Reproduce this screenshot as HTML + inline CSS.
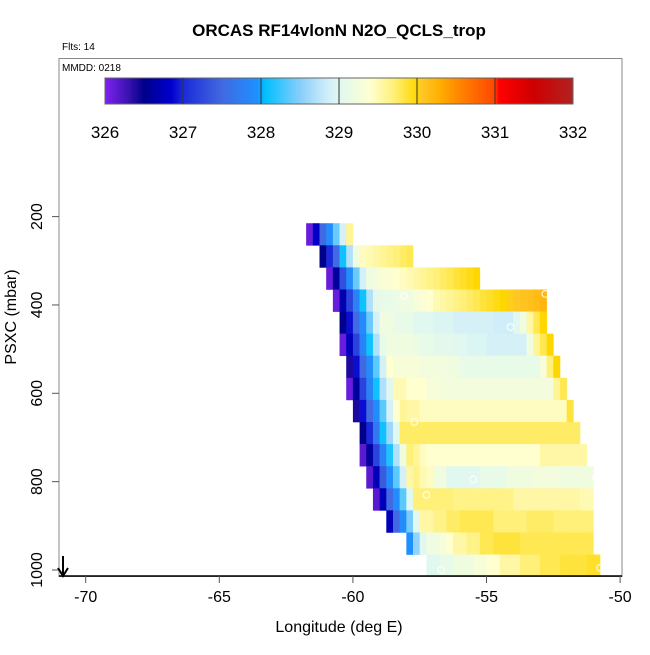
<!DOCTYPE html>
<html><head><meta charset="utf-8"><style>
body{margin:0;background:#fff;}
svg text{font-family:"Liberation Sans",Arial,sans-serif;}
</style></head><body>
<svg id="chart" width="650" height="650" viewBox="0 0 650 650" xmlns="http://www.w3.org/2000/svg">
<defs><linearGradient id="cbg" x1="0" x2="1" y1="0" y2="0"></linearGradient></defs>
<rect x="0" y="0" width="650" height="650" fill="#fff"/>
<text x="339" y="36" font-size="17" font-weight="bold" text-anchor="middle">ORCAS RF14vlonN N2O_QCLS_trop</text>
<text x="62" y="50" font-size="10">Flts: 14</text>
<g id="cells"></g>
<g id="markers"></g>
<rect x="59" y="58.5" width="563" height="518" fill="none" stroke="#888" stroke-width="1"/>
<text x="62" y="71" font-size="10">MMDD: 0218</text>
<g id="colorbar"></g>
<line x1="59" y1="576" x2="622" y2="576" stroke="#000" stroke-width="1.5"/>
<g id="xaxis"></g>
<g id="yaxis"></g>
<text x="339" y="632" font-size="16" text-anchor="middle">Longitude (deg E)</text>
<text transform="translate(16,317) rotate(-90)" font-size="16" text-anchor="middle">PSXC (mbar)</text>
<g>
<line x1="63" y1="556" x2="63" y2="575" stroke="#000" stroke-width="2"/>
<path d="M58,568 L63,576 L68,568" fill="none" stroke="#000" stroke-width="2"/>
</g>
</svg>
<script>
const xTicks=[-70,-65,-60,-55,-50];
const yTicks=[200,400,600,800,1000];
const cbTicks=[326,327,328,329,330,331,332];
const rowPressure=[215,265,315,365,415,465,515,565,615,665,715,765,815,865,915,965];
const rowStartLon=[-61.75,-61.25,-61.0,-60.75,-60.5,-60.5,-60.25,-60.25,-60.0,-59.75,-59.75,-59.5,-59.25,-58.75,-58.0,-57.25];
const r1=[326.1,326.8,327.5,327.9,328.4,328.9,329.6];
const r2=[326.5,327.0,327.5,328.1,328.7,329.2,329.45,329.5,329.55,329.6,329.65,329.7,329.75,329.8];
const r3=[326.1,326.6,327.3,327.9,328.4,328.9,329.2,329.25,329.35,329.35,329.4,329.45,329.5,329.55,329.6,329.65,329.7,329.75,329.8,329.85,329.9,329.95,330.0];
const r4=[326.1,326.7,327.2,327.8,328.1,328.7,329.05,329.1,329.1,329.15,329.2,329.2,329.3,329.35,329.4,329.5,329.55,329.6,329.65,329.7,329.75,329.8,329.85,329.9,329.95,330.0,330.03,330.06,330.1,330.13,330.17,330.22];
const r5=[326.5,326.9,327.5,327.9,328.4,328.9,329.2,329.2,329.1,329.1,329.1,329.0,329.0,329.0,328.95,328.95,328.95,328.9,328.9,328.9,328.9,328.9,328.9,328.85,328.85,328.85,329.0,329.2,329.55,329.8,330.0];
const r6=[326.1,326.75,327.2,327.8,328.1,328.7,329.1,329.2,329.2,329.2,329.2,329.15,329.1,329.1,329.05,329.05,329.05,329.0,329.0,328.95,328.95,328.95,328.9,328.9,328.9,328.9,328.9,328.9,329.2,329.6,329.8,330.0];
const r7=[326.4,326.9,327.5,327.9,328.35,328.9,329.4,329.3,329.3,329.3,329.3,329.25,329.25,329.25,329.25,329.2,329.2,329.1,329.1,329.1,329.1,329.1,329.1,329.1,329.1,329.1,329.1,329.1,329.1,329.3,329.7,330.0];
const r8=[326.1,326.6,327.2,327.8,328.1,328.7,329.0,329.5,329.5,329.4,329.4,329.4,329.3,329.3,329.25,329.25,329.25,329.25,329.25,329.25,329.25,329.25,329.25,329.25,329.25,329.25,329.25,329.25,329.25,329.25,329.25,329.6,329.8];
const r9=[326.4,326.9,327.5,327.9,328.35,328.9,329.4,329.6,329.55,329.55,329.45,329.45,329.45,329.45,329.45,329.45,329.45,329.45,329.45,329.45,329.45,329.45,329.45,329.45,329.45,329.45,329.45,329.45,329.45,329.45,329.45,329.45,329.85];
const r10=[326.5,327.0,327.7,328.1,328.6,329.0,329.75,329.75,329.75,329.75,329.75,329.75,329.75,329.75,329.75,329.75,329.75,329.75,329.75,329.75,329.75,329.75,329.75,329.75,329.75,329.75,329.75,329.75,329.75,329.75,329.75,329.75,329.75];
const r11=[326.15,326.6,327.2,327.8,328.15,328.7,329.2,329.7,329.6,329.45,329.4,329.4,329.4,329.4,329.4,329.4,329.4,329.4,329.4,329.4,329.4,329.4,329.4,329.4,329.4,329.4,329.4,329.55,329.55,329.55,329.55,329.55,329.55,329.55];
const r12=[326.15,326.75,327.4,327.9,328.35,328.9,329.55,329.65,329.5,329.45,329.2,329.2,329.0,329.0,329.0,329.0,329.0,329.1,329.1,329.1,329.1,329.2,329.2,329.2,329.2,329.25,329.25,329.25,329.25,329.2,329.2,329.2,329.2,329.2];
const r13=[326.15,326.75,327.5,327.9,328.35,329.0,329.7,329.7,329.7,329.7,329.7,329.7,329.65,329.65,329.65,329.65,329.65,329.65,329.65,329.65,329.65,329.55,329.55,329.55,329.55,329.55,329.55,329.55,329.55,329.55,329.55,329.5,329.5];
const r14=[326.75,327.5,327.9,328.45,329.0,329.55,329.55,329.65,329.65,329.75,329.75,329.8,329.8,329.8,329.8,329.8,329.7,329.7,329.7,329.7,329.7,329.75,329.75,329.75,329.75,329.7,329.7,329.7,329.7,329.7,329.7];
const r15=[327.95,328.55,329.0,329.2,329.2,329.3,329.4,329.55,329.55,329.65,329.65,329.8,329.8,329.85,329.85,329.85,329.85,329.8,329.8,329.8,329.8,329.8,329.8,329.8,329.8,329.8,329.8,329.8];
const r16=[329.0,329.0,329.1,329.1,329.2,329.2,329.2,329.3,329.3,329.4,329.4,329.55,329.55,329.55,329.7,329.7,329.7,329.8,329.8,329.8,329.85,329.85,329.85,329.85,329.9,329.9];
const rowValues=[r1,r2,r3,r4,r5,r6,r7,r8,r9,r10,r11,r12,r13,r14,r15,r16];
const markerLon=[-59.35,-58.1,-52.8,-54.1,-57.7,-51.2,-55.5,-50.9,-57.25,-56.7,-50.75];
const markerP=[240,380,375,450,665,665,795,790,830,1000,995];
const cellLon=0.25, binP=50;

const NS="http://www.w3.org/2000/svg";
function xs(l){return 85.7+(l+70)*26.72;}
function ys(p){return 570-(1000-p)*0.44175;}
const stops=[[326.0,"#7d22f0"],[326.3,"#3a12b0"],[326.5,"#00008b"],[326.85,"#0000cd"],[327.0,"#1a2ad8"],[327.5,"#4169e1"],[327.95,"#1e90ff"],[328.05,"#00bfff"],[328.5,"#87cefa"],[328.85,"#d0eefa"],[329.0,"#e0f8f0"],[329.4,"#ffffd0"],[329.7,"#fff07a"],[330.0,"#ffd700"],[330.05,"#ffc828"],[330.3,"#ffae00"],[330.5,"#ff8c00"],[331.0,"#ff4500"],[331.05,"#ff0000"],[331.5,"#cd0000"],[332.0,"#b22222"]];
function hx(c){return [1,3,5].map(i=>parseInt(c.substr(i,2),16));}
function col(v){
  if(v<=stops[0][0])return stops[0][1];
  for(let i=1;i<stops.length;i++){if(v<=stops[i][0]){const a=stops[i-1],b=stops[i];const t=(v-a[0])/(b[0]-a[0]);const ca=hx(a[1]),cb=hx(b[1]);return "rgb("+ca.map((x,k)=>Math.round(x+(cb[k]-x)*t)).join(",")+")";}}
  return stops[stops.length-1][1];
}
const cells=document.getElementById('cells');
rowValues.forEach((vals,ri)=>{
  const y0=ys(rowPressure[ri]),y1=ys(rowPressure[ri]+binP);
  vals.forEach((v,ci)=>{
    const l=rowStartLon[ri]+ci*cellLon;
    const r=document.createElementNS(NS,'rect');
    r.setAttribute('x',xs(l).toFixed(2));r.setAttribute('y',y0.toFixed(2));
    r.setAttribute('width',(xs(l+cellLon)-xs(l)+0.3).toFixed(2));r.setAttribute('height',(y1-y0+0.3).toFixed(2));
    r.setAttribute('fill',col(v));
    
    
    cells.appendChild(r);
  });
});
const mk=document.getElementById('markers');
markerLon.forEach((l,i)=>{
  const c=document.createElementNS(NS,'circle');
  c.setAttribute('cx',xs(l));c.setAttribute('cy',ys(markerP[i]));c.setAttribute('r',3.3);
  c.setAttribute('fill','none');c.setAttribute('stroke','#fff');c.setAttribute('stroke-width','1.2');c.setAttribute('opacity','0.85');
  
  
  mk.appendChild(c);
});
const g=document.getElementById('cbg');
stops.forEach(s=>{const st=document.createElementNS(NS,'stop');st.setAttribute('offset',((s[0]-326)/6*100)+'%');st.setAttribute('stop-color',s[1]);g.appendChild(st);});
const cb=document.getElementById('colorbar');
function cbx(v){return 105+(v-326)*78;}
const cr=document.createElementNS(NS,'rect');
cr.setAttribute('x',105);cr.setAttribute('y',78);cr.setAttribute('width',468);cr.setAttribute('height',26);
cr.setAttribute('fill','url(#cbg)');cr.setAttribute('stroke','#666');cr.setAttribute('stroke-width','1');


cb.appendChild(cr);
cbTicks.forEach(v=>{
  if(v>326&&v<332){const ln=document.createElementNS(NS,'line');ln.setAttribute('x1',cbx(v));ln.setAttribute('x2',cbx(v));ln.setAttribute('y1',78);ln.setAttribute('y2',104);ln.setAttribute('stroke','#333');ln.setAttribute('stroke-width','1');cb.appendChild(ln);}
  const t=document.createElementNS(NS,'text');t.setAttribute('x',cbx(v));t.setAttribute('y',138);t.setAttribute('font-size','17');t.setAttribute('text-anchor','middle');t.textContent=v;
  
  
  cb.appendChild(t);
});
const xa=document.getElementById('xaxis');
xTicks.forEach(v=>{
  const x=xs(v);
  const ln=document.createElementNS(NS,'line');ln.setAttribute('x1',x);ln.setAttribute('x2',x);ln.setAttribute('y1',576);ln.setAttribute('y2',583);ln.setAttribute('stroke','#555');xa.appendChild(ln);
  const t=document.createElementNS(NS,'text');t.setAttribute('x',x);t.setAttribute('y',602);t.setAttribute('font-size','16');t.setAttribute('text-anchor','middle');t.textContent=v;
  
  
  xa.appendChild(t);
});
const ya=document.getElementById('yaxis');
yTicks.forEach(v=>{
  const y=ys(v);
  const ln=document.createElementNS(NS,'line');ln.setAttribute('x1',52);ln.setAttribute('x2',59);ln.setAttribute('y1',y);ln.setAttribute('y2',y);ln.setAttribute('stroke','#555');ya.appendChild(ln);
  const t=document.createElementNS(NS,'text');t.setAttribute('transform','translate(42,'+y+') rotate(-90)');t.setAttribute('font-size','16');t.setAttribute('text-anchor','middle');t.textContent=v;
  
  
  ya.appendChild(t);
});
</script>
</body></html>
